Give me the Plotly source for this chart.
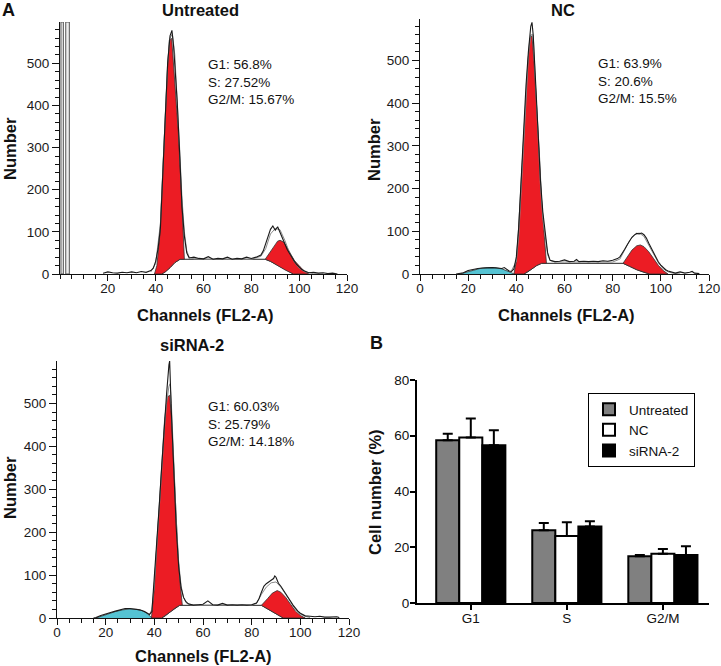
import plotly.graph_objects as go

# ---------------- Histogram data (channels vs counts) ----------------
# Untreated
UNT_RAW_X = [18,20,22,24,26,28,30,32,34,36,38,39,40,41,42,43,44,45,46,46.8,47.5,48,49,50,51,52,53,54,56,58,60,62,64,66,68,70,72,74,76,78,80,82,84,85,86,87,88,89,90,91,92,93,94,95,96,97,98,99,100,101,102,103,104,106,108,110,112,114,116]
UNT_RAW_Y = [2,5,3,2,4,3,5,3,6,4,8,14,30,60,110,230,380,500,565,578,540,500,410,290,160,90,50,38,40,37,36,41,35,37,36,40,35,37,36,40,37,40,45,55,72,92,106,114,104,112,100,88,72,58,48,38,30,22,16,11,8,5,3,4,2,3,1,2,0]
UNT_FIT_X = [38,40,42,44,45,46,47,48,49,50,51,52,53,54,56,60,70,80,84,86,88,90,92,94,96,98,100,102,104,106,110]
UNT_FIT_Y = [5,25,120,370,500,560,570,520,420,300,180,100,55,40,36,35,35,35,42,60,95,108,105,80,50,28,14,6,3,1,0]
UNT_G1_X = [39.5,40.5,41.8,43,43.7,45,45.7,46.7,47.5,48.5,49.5,50.9,52,50.2,48,46,44,42.5,39.5]
UNT_G1_Y = [0,20,96,230,334,492,555,559,500,420,334,175,35,35,27,15,5,0,0]
UNT_S_X = [42.5,44,46,48,50.2,85.8,88,91,94,97.6]
UNT_S_Y = [0,5,15,27,35,35,30,20,10,0]
UNT_G2_X = [85.8,87,88.5,90,91,92,93.5,95,96.2,98,100.4,102,104,97.6,94,91,88,85.8]
UNT_G2_Y = [35,45,60,72,78,80,76,62,49,32,17,8,0,0,10,20,30,35]
UNT_CYAN_X = []
UNT_CYAN_Y = []
UNT_PEAKS = [47, 89.5]
UNT_GATE_X0 = [0.4, 2.4]
UNT_GATE_X1 = [1.4, 3.9]
UNT_GATE_TOP = 598

# NC
NC_RAW_X = [15,16,18,20,22,24,26,28,30,32,34,35,36,37,38,39,40,41,42,43,44,45,46,46.5,47,48,49,50,51,52,53,54,56,58,60,62,64,65,66,68,70,72,74,76,78,80,82,83,84,85,86,87,88,89,90,91,92,93,94,95,96,97,98,99,100,101,102,103,104,105,106,108,110,112,113,114,116]
NC_RAW_Y = [0,1,3,8,11,13,14,15,15,14,13,15,10,7,6,12,40,110,220,340,440,520,580,589,560,450,330,220,145,100,50,32,29,30,33,29,30,34,29,30,29,30,29,31,30,32,36,40,48,58,68,78,86,91,95,94,96,92,84,72,60,48,36,28,21,15,10,7,5,3,2,5,2,4,6,2,1]
NC_FIT_X = [38,40,41,42,43,44,45,46,47,48,49,50,51,52,53,54,56,60,70,80,83,85,87,89,91,93,95,97,99,101,103,105,108]
NC_FIT_Y = [8,30,90,200,320,430,510,560,560,440,320,210,130,80,45,32,28,28,28,28,35,55,78,92,96,88,68,45,26,12,5,2,0]
NC_G1_X = [39,40,40.8,42,42.9,44,44.7,45.6,46.5,47.3,48.4,49.5,50.5,51.5,52.5,50.5,48.5,46.5,44.5,43.1,39]
NC_G1_Y = [0,30,95,220,330,430,486,552,558,500,408,290,173,90,25,25,20,12,4,0,0]
NC_S_X = [43.1,44.5,46.5,48.5,50.5,84.3,87,90,93,95.4]
NC_S_Y = [0,4,12,20,25,25,18,10,4,0]
NC_G2_X = [84.3,86,88,90,91.5,93,95,97,99,101,103,95.4,93,90,87,84.3]
NC_G2_Y = [25,40,56,66,68,64,52,36,20,8,0,0,4,10,18,25]
NC_CYAN_X = [16.5,19,22,25,28,31,34,36,38,39]
NC_CYAN_Y = [0,4,9,13,15,15,12,8,3,0]
NC_PEAKS = [46, 93]

# siRNA-2
SI_RAW_X = [15,16,18,20,22,24,26,28,30,32,34,36,38,39,40,41,42,43,44,45,46,46.3,47,48,49,50,51,52,53,54,56,58,60,62,64,66,68,70,72,74,76,78,80,82,83,84,85,86,87,88,89,89.5,90,91,92,93,94,95,96,97,98,99,100,101,102,104,106,108,110,112,114,115,116]
SI_RAW_Y = [0,1,6,10,13,16,19,22,22,20,19,15,8,15,90,170,260,350,450,520,590,599,480,330,210,120,70,48,38,33,30,31,32,40,31,30,34,30,31,30,31,30,31,35,45,60,74,80,85,88,92,98,95,81,74,66,58,48,39,30,22,16,11,7,5,4,3,4,2,2,3,3,1]
SI_FIT_X = [38,39,40,41,42,43,44,45,46,46.5,47,48,49,50,51,52,53,54,56,60,70,80,82,84,86,88,90,92,94,96,98,100,102,104]
SI_FIT_Y = [8,20,80,160,250,340,430,500,540,546,500,360,230,130,75,48,36,32,30,30,30,30,34,55,72,82,84,72,55,36,20,9,4,1]
SI_G1_X = [38.8,40,40.8,42.5,44.2,45.3,46.3,47,47.7,48.7,49.7,50.6,51.5,50.4,48.5,46.5,44.5,43,38.8]
SI_G1_Y = [0,70,151,306,461,515,519,470,384,260,151,80,30,29.5,23,14,5,0,0]
SI_S_X = [43,44.5,46.5,48.5,50.4,84,86.5,89,91.5,93]
SI_S_Y = [0,5,14,23,29.5,29.5,21,12,5,0]
SI_G2_X = [84,85.5,86.5,88.5,90.5,92,94,96,98,100,102,93,91.5,89,86.5,84]
SI_G2_Y = [29.5,38,45,58,64,60,48,32,16,6,0,0,5,12,21,29.5]
SI_CYAN_X = [16,18,21,24,27,30,33,35,37,38.5,39]
SI_CYAN_Y = [0,4,10,15,19,21,20,17,11,4,0]
SI_PEAKS = [46, 89]

PANEL_TITLES = ["Untreated", "NC", "siRNA-2"]
PANEL_STATS = [
    ["G1: 56.8%", "S: 27.52%", "G2/M: 15.67%"],
    ["G1: 63.9%", "S: 20.6%", "G2/M: 15.5%"],
    ["G1: 60.03%", "S: 25.79%", "G2/M: 14.18%"],
]

# ---------------- Bar chart data ----------------
PHASES = ["G1", "S", "G2/M"]
GROUPS = ["Untreated", "NC", "siRNA-2"]
UNT_MEAN = [58.4, 26.1, 16.8]
UNT_ERR = [2.3, 2.6, 0.4]
NC_MEAN = [59.4, 24.0, 17.7]
NC_ERR = [6.8, 5.0, 1.7]
SI_MEAN = [56.6, 27.4, 17.2]
SI_ERR = [5.4, 1.9, 3.2]

W, H = 721, 666
FONT = "Liberation Sans, Arial, sans-serif"
RED = "#ec1c24"
CYAN = "#55c3d3"


def px(x):
    return x / W


def py(y):
    return 1 - y / H


fig = go.Figure()

panels = [
    dict(raw=(UNT_RAW_X, UNT_RAW_Y), fit=(UNT_FIT_X, UNT_FIT_Y), g1=(UNT_G1_X, UNT_G1_Y),
         s=(UNT_S_X, UNT_S_Y), g2=(UNT_G2_X, UNT_G2_Y), cyan=(UNT_CYAN_X, UNT_CYAN_Y), peaks=UNT_PEAKS,
         ax="", xdom=(60, 347), ydom=(22, 274), ymax=598, xt=[20, 40, 60, 80, 100, 120],
         title_xy=(200, 10), stats_xy=(206, 55), ylab_xy=(10, 149), xlab_xy=(205, 315)),
    dict(raw=(NC_RAW_X, NC_RAW_Y), fit=(NC_FIT_X, NC_FIT_Y), g1=(NC_G1_X, NC_G1_Y),
         s=(NC_S_X, NC_S_Y), g2=(NC_G2_X, NC_G2_Y), cyan=(NC_CYAN_X, NC_CYAN_Y), peaks=NC_PEAKS,
         ax="2", xdom=(420, 709), ydom=(19, 274), ymax=597, xt=[0, 20, 40, 60, 80, 100, 120],
         title_xy=(563, 10), stats_xy=(596, 54), ylab_xy=(374, 150), xlab_xy=(566, 315)),
    dict(raw=(SI_RAW_X, SI_RAW_Y), fit=(SI_FIT_X, SI_FIT_Y), g1=(SI_G1_X, SI_G1_Y),
         s=(SI_S_X, SI_S_Y), g2=(SI_G2_X, SI_G2_Y), cyan=(SI_CYAN_X, SI_CYAN_Y), peaks=SI_PEAKS,
         ax="3", xdom=(57, 349), ydom=(361, 618), ymax=599, xt=[0, 20, 40, 60, 80, 100, 120],
         title_xy=(192, 345), stats_xy=(206, 397), ylab_xy=(10, 488), xlab_xy=(203, 656)),
]

annotations = []
shapes = []


def ann(text, x, y, size, xanchor="center", yanchor="middle", **kw):
    return dict(text=text, x=px(x), y=py(y), xref="paper", yref="paper", showarrow=False,
                xanchor=xanchor, yanchor=yanchor, font=dict(family=FONT, size=size, color="#111"), **kw)


for i, p in enumerate(panels):
    xa = "x" + p["ax"]
    ya = "y" + p["ax"]
    common = dict(xaxis=xa, yaxis=ya, showlegend=False, hoverinfo="skip")
    if p["cyan"][0]:
        fig.add_trace(go.Scatter(x=p["cyan"][0], y=p["cyan"][1], mode="lines", fill="toself",
                                 fillcolor=CYAN, line=dict(color="#333333", width=0.8), **common))
    fig.add_trace(go.Scatter(x=p["s"][0], y=p["s"][1], mode="lines", fill="toself",
                             fillcolor="white", line=dict(color="#222222", width=1), **common))
    fig.add_trace(go.Scatter(x=p["g1"][0], y=p["g1"][1], mode="lines", fill="toself",
                             fillcolor=RED, line=dict(color="#333333", width=0.8), **common))
    fig.add_trace(go.Scatter(x=p["g2"][0], y=p["g2"][1], mode="lines", fill="toself",
                             fillcolor=RED, line=dict(color="#333333", width=0.8), **common))
    fig.add_trace(go.Scatter(x=p["fit"][0], y=p["fit"][1], mode="lines",
                             line=dict(color="#8a8a8a", width=1), **common))
    fig.add_trace(go.Scatter(x=p["raw"][0], y=p["raw"][1], mode="lines",
                             line=dict(color="#1a1a1a", width=1.1), **common))
    fig.add_trace(go.Scatter(x=p["peaks"], y=[-6] * len(p["peaks"]), mode="markers",
                             marker=dict(symbol="triangle-up", size=4, color="#222"),
                             cliponaxis=False, **common))

    x0, x1 = p["xdom"]
    y0, y1 = p["ydom"]
    axis_common = dict(showline=True, linecolor="#111", linewidth=1, showgrid=False, zeroline=False,
                       ticks="outside", tickcolor="#111", tickwidth=1,
                       tickfont=dict(family=FONT, size=13.5, color="#1a1a1a"))
    fig.layout["xaxis" + p["ax"]] = dict(domain=[px(x0), px(x1)], range=[0, 120], anchor=ya,
                                         tickvals=p["xt"], ticklen=6, ticklabelstandoff=-4,
                                         minor=dict(dtick=5, tick0=0, ticklen=4, ticks="outside",
                                                    tickcolor="#111", tickwidth=1),
                                         **axis_common)
    fig.layout["yaxis" + p["ax"]] = dict(domain=[py(y1), py(y0)], range=[0, p["ymax"]], anchor=xa,
                                         tickvals=[0, 100, 200, 300, 400, 500], ticklen=7,
                                         minor=dict(dtick=20, tick0=0, ticklen=4, ticks="outside",
                                                    tickcolor="#111", tickwidth=1),
                                         **axis_common)

    tx, ty = p["title_xy"]
    annotations.append(ann("<b>%s</b>" % PANEL_TITLES[i], tx, ty, 16.5))
    sx, sy = p["stats_xy"]
    annotations.append(ann("<br>".join(PANEL_STATS[i]), sx, sy, 13.5, xanchor="left", yanchor="top",
                           align="left"))
    lx, ly = p["ylab_xy"]
    annotations.append(ann("<b>Number</b>", lx, ly, 16.5, textangle=-90))
    cx, cy = p["xlab_xy"]
    annotations.append(ann("<b>Channels (FL2-A)</b>", cx, cy, 16.5))

# gate markers on the Untreated histogram
for g0, g1 in zip(UNT_GATE_X0, UNT_GATE_X1):
    shapes.append(dict(type="rect", xref="x", yref="y", x0=g0, x1=g1, y0=0, y1=UNT_GATE_TOP,
                       fillcolor="#ececec", line=dict(color="#555", width=1), layer="above"))

# ---------------- Bar chart ----------------
bar_specs = [
    (GROUPS[0], UNT_MEAN, UNT_ERR, "#808080"),
    (GROUPS[1], NC_MEAN, NC_ERR, "#ffffff"),
    (GROUPS[2], SI_MEAN, SI_ERR, "#000000"),
]
for name, mean, err, col in bar_specs:
    fig.add_trace(go.Bar(x=PHASES, y=mean, name=name, xaxis="x4", yaxis="y4",
                         marker=dict(color=col, line=dict(color="#000", width=2)),
                         error_y=dict(type="data", array=err, arrayminus=[0] * len(err), symmetric=False,
                                      color="#000", thickness=2, width=5),
                         hoverinfo="skip"))

bar_axis = dict(showline=True, linecolor="#000", linewidth=2, showgrid=False, zeroline=False,
                ticks="outside", tickcolor="#000", tickwidth=2, ticklen=5,
                tickfont=dict(family=FONT, size=13.5, color="#111"))
fig.layout.xaxis4 = dict(domain=[px(417), px(709)], range=[-0.56, 2.48], anchor="y4",
                         ticklabelstandoff=-3, **bar_axis)
fig.layout.yaxis4 = dict(domain=[py(603), py(380)], range=[0, 80], anchor="x4",
                         tickvals=[0, 20, 40, 60, 80], ticklabelstandoff=-2, **bar_axis)

annotations.append(ann("<b>Cell number (%)</b>", 375, 492, 16.5, textangle=-90))
annotations.append(ann("<b>A</b>", 8, 10, 18))
annotations.append(ann("<b>B</b>", 376, 343, 18))

fig.update_layout(
    width=W, height=H, margin=dict(l=0, r=0, t=0, b=0, autoexpand=False),
    paper_bgcolor="white", plot_bgcolor="white",
    barmode="group", bargap=0.28, bargroupgap=0,
    font=dict(family=FONT, color="#111"),
    annotations=annotations, shapes=shapes,
    showlegend=True,
    legend=dict(x=px(588), y=py(393), xanchor="left", yanchor="top", bgcolor="white",
                bordercolor="#000", borderwidth=1, font=dict(family=FONT, size=13.5, color="#111"),
                tracegroupgap=4, itemwidth=30),
)

fig.write_html("out.html", config={"displayModeBar": False},
               post_script="document.body.style.margin='0px';document.body.style.padding='0px';")
